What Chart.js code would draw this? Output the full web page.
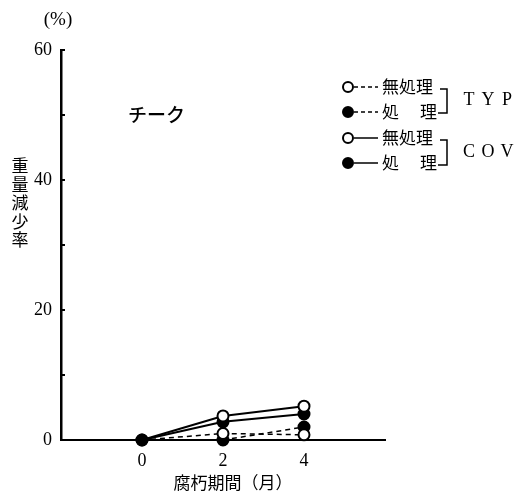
<!DOCTYPE html>
<html>
<head>
<meta charset="utf-8">
<script src="https://cdn.jsdelivr.net/npm/chart.js@4"></script>
<style>
  body { margin: 0; background: #fff; }
  canvas { display: block; }
</style>
</head>
<body>
<canvas id="myChart" width="514" height="497"></canvas>
<script>
// months of decay (x) and weight loss % (y)
const months = [0, 2, 4];
const typUntreated = [0, 1.0, 0.8];
const typTreated = [0, 0, 2.0];
const covUntreated = [0, 3.7, 5.2];
const covTreated = [0, 2.8, 4.0];
const xTicks = [0, 2, 4];
const yLabels = [0, 20, 40, 60];

const serif = "'Liberation Serif', 'DejaVu Serif', serif";
const jp = "'Noto Sans CJK JP', sans-serif";

function pts(vals) {
    return months.map(function (m, i) { return { x: m, y: vals[i] }; });
}

function ds(label, vals, open, dashed) {
    return {
        label: label,
        data: pts(vals),
        borderColor: '#000',
        borderWidth: dashed ? 1.5 : 2,
        borderDash: dashed ? [5, 4] : [],
        pointRadius: open ? [0, 5.5, 5.5] : 5.5,
        pointBackgroundColor: open ? '#fff' : '#000',
        pointBorderColor: '#000',
        pointBorderWidth: 2,
        tension: 0,
        clip: false
    };
}

// custom texts, inward ticks and the bracketed legend
const extras = {
    id: 'extras',
    afterDraw: function (chart) {
        const ctx = chart.ctx;
        const y = chart.scales.y;
        ctx.save();
        // inward tick marks on the y axis
        ctx.strokeStyle = '#000';
        ctx.lineWidth = 2;
        y.ticks.forEach(function (t) {
            const py = y.getPixelForValue(t.value);
            ctx.beginPath();
            ctx.moveTo(y.right, py);
            ctx.lineTo(y.right + 4, py);
            ctx.stroke();
        });

        ctx.fillStyle = '#000';
        ctx.textBaseline = 'middle';
        ctx.textAlign = 'center';
        ctx.font = '19px ' + serif;
        ctx.fillText('(%)', 58, 20);

        // vertical y title
        ctx.font = '17px ' + jp;
        const ytitle = '重量減少率';
        for (let i = 0; i < ytitle.length; i++) {
            ctx.fillText(ytitle[i], 20, 166 + i * 18.5);
        }

        ctx.textAlign = 'left';
        ctx.font = '500 19px ' + jp;
        ctx.fillText('チーク', 128, 115);

        ctx.textAlign = 'center';
        ctx.font = '17px ' + jp;
        ctx.fillText('腐朽期間（月）', 233, 483);

        // legend
        const rows = [
            { yy: 87, open: true, dashed: true, t: '無処理' },
            { yy: 112, open: false, dashed: true, t: '処理' },
            { yy: 138, open: true, dashed: false, t: '無処理' },
            { yy: 163, open: false, dashed: false, t: '処理' }
        ];
        rows.forEach(function (r) {
            ctx.lineWidth = 1.5;
            ctx.setLineDash(r.dashed ? [4, 3] : []);
            ctx.beginPath();
            ctx.moveTo(354, r.yy);
            ctx.lineTo(378, r.yy);
            ctx.stroke();
            ctx.setLineDash([]);
            ctx.lineWidth = 2;
            ctx.beginPath();
            ctx.arc(348, r.yy, 5, 0, Math.PI * 2);
            ctx.fillStyle = r.open ? '#fff' : '#000';
            ctx.fill();
            ctx.stroke();
            ctx.fillStyle = '#000';
            ctx.textAlign = 'left';
            ctx.font = '17px ' + jp;
            if (r.t.length === 3) {
                ctx.fillText(r.t, 382, r.yy);
            } else {
                ctx.fillText(r.t[0], 382, r.yy);
                ctx.fillText(r.t[1], 420, r.yy);
            }
        });
        // brackets
        ctx.lineWidth = 1.5;
        [[89, 113], [140, 165]].forEach(function (b) {
            ctx.beginPath();
            ctx.moveTo(440, b[0]);
            ctx.lineTo(447, b[0]);
            ctx.lineTo(447, b[1]);
            ctx.lineTo(438, b[1]);
            ctx.stroke();
        });
        ctx.font = '18px ' + serif;
        ctx.textAlign = 'center';
        ['TYP', 'COV'].forEach(function (s, k) {
            const yy = k === 0 ? 100 : 152;
            for (let i = 0; i < s.length; i++) {
                ctx.fillText(s[i], 469 + i * 19, yy);
            }
        });
        ctx.restore();
    }
};

new Chart('myChart', {
    type: 'line',
    data: {
        datasets: [
            ds('COV 無処理', covUntreated, true, false),
            ds('TYP 無処理', typUntreated, true, true),
            ds('COV 処理', covTreated, false, false),
            ds('TYP 処理', typTreated, false, true)
        ]
    },
    options: {
        responsive: false,
        animation: false,
        layout: { padding: { top: 50, right: 129, left: 0, bottom: 0 } },
        plugins: {
            legend: { display: false },
            tooltip: { enabled: false }
        },
        scales: {
            x: {
                type: 'linear',
                min: -2,
                max: 6,
                afterBuildTicks: function (scale) {
                    scale.ticks = xTicks.map(function (v) { return { value: v }; });
                },
                afterFit: function (scale) { scale.height = 57; },
                grid: { display: false },
                border: { display: true, color: '#000', width: 2 },
                ticks: {
                    color: '#000',
                    padding: 2,
                    font: { family: serif, size: 18 }
                }
            },
            y: {
                min: 0,
                max: 60,
                afterFit: function (scale) { scale.width = 61; },
                grid: { display: false },
                border: { display: true, color: '#000', width: 2.5 },
                ticks: {
                    stepSize: 10,
                    color: '#000',
                    padding: 1,
                    font: { family: serif, size: 18 },
                    callback: function (v) { return yLabels.indexOf(v) >= 0 ? v : ''; }
                }
            }
        }
    },
    plugins: [extras]
});
</script>
</body>
</html>
